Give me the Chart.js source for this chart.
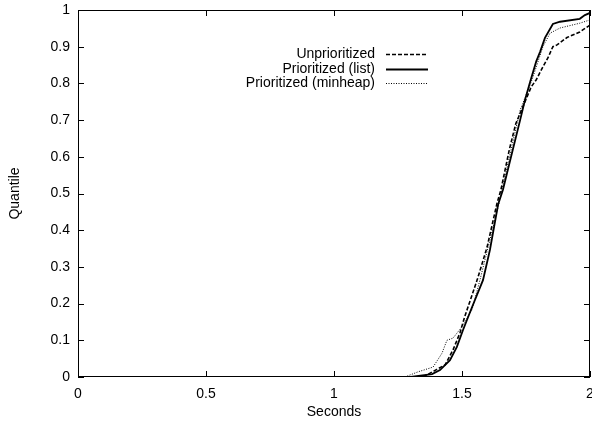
<!DOCTYPE html>
<html>
<head>
<meta charset="utf-8">
<script src="https://cdn.jsdelivr.net/npm/chart.js@4/dist/chart.umd.min.js"></script>
<style>
  html, body { margin: 0; padding: 0; background: #fff; }
  #wrap { width: 592px; height: 424px; }
</style>
</head>
<body>
<div id="wrap"><canvas id="grafico" width="592" height="424"></canvas></div>
<script>
// series labels
const nombres = ["Unprioritized", "Prioritized (list)", "Prioritized (minheap)"];

// Unprioritized (dashed)
const unprioX = [1.348, 1.40, 1.434, 1.465, 1.492, 1.51, 1.559, 1.598, 1.637, 1.652, 1.685, 1.71, 1.77, 1.79, 1.816, 1.836, 1.855, 1.871, 1.91, 1.96, 2.0];
const unprioY = [0, 0.02, 0.033, 0.074, 0.12, 0.163, 0.264, 0.354, 0.474, 0.51, 0.62, 0.69, 0.79, 0.81, 0.845, 0.87, 0.9, 0.905, 0.925, 0.94, 0.959];

// Prioritized (list) (solid)
const listX = [1.30, 1.383, 1.414, 1.453, 1.48, 1.504, 1.539, 1.582, 1.609, 1.641, 1.66, 1.688, 1.727, 1.746, 1.766, 1.79, 1.805, 1.824, 1.855, 1.883, 1.96, 1.98, 2.0];
const listY = [0, 0.008, 0.019, 0.046, 0.082, 0.128, 0.19, 0.264, 0.346, 0.47, 0.51, 0.59, 0.70, 0.755, 0.804, 0.86, 0.886, 0.924, 0.962, 0.968, 0.976, 0.986, 0.992];

// Prioritized (minheap) (dotted)
const heapX = [1.277, 1.328, 1.387, 1.422, 1.441, 1.465, 1.5, 1.539, 1.57, 1.609, 1.641, 1.656, 1.727, 1.766, 1.777, 1.816, 1.844, 1.883, 1.96, 2.0];
const heapY = [0, 0.014, 0.027, 0.065, 0.1, 0.106, 0.137, 0.183, 0.264, 0.373, 0.463, 0.51, 0.727, 0.796, 0.817, 0.9, 0.937, 0.951, 0.964, 0.973];

// axis ticks
const ticksX = [0, 0.5, 1, 1.5, 2];
const ticksY = [0, 0.1, 0.2, 0.3, 0.4, 0.5, 0.6, 0.7, 0.8, 0.9, 1];

const fuente = { family: "'Liberation Sans', Arial, sans-serif", size: 14 };

function puntos(xs, ys) {
  return xs.map((x, i) => ({ x: x, y: ys[i] }));
}

function etiqueta(v) {
  return String(Math.round(v * 10) / 10);
}

const estilos = [
  { dash: [4, 2], width: 1.6 },
  { dash: [], width: 1.8 },
  { dash: [1, 1.5], width: 1 }
];

// frame, inward ticks and legend, gnuplot style
const marco = {
  id: "marco",
  afterDraw(chart) {
    const c = chart.ctx;
    const a = chart.chartArea;
    const sx = chart.scales.x, sy = chart.scales.y;
    c.save();
    c.strokeStyle = "#000";
    c.lineWidth = 1;
    c.setLineDash([]);
    c.strokeRect(Math.round(a.left) + 0.5, Math.round(a.top) + 0.5, Math.round(a.right - a.left) - 1, Math.round(a.bottom - a.top) - 1);
    const L = 6;
    c.beginPath();
    ticksX.forEach((v) => {
      const px = Math.round(sx.getPixelForValue(v)) + 0.5;
      c.moveTo(px, a.bottom); c.lineTo(px, a.bottom - L);
      c.moveTo(px, a.top); c.lineTo(px, a.top + L);
    });
    ticksY.forEach((v) => {
      const py = Math.round(sy.getPixelForValue(v)) + 0.5;
      c.moveTo(a.left, py); c.lineTo(a.left + L, py);
      c.moveTo(a.right, py); c.lineTo(a.right - L, py);
    });
    c.stroke();

    // leyenda
    c.font = "14px 'Liberation Sans', Arial, sans-serif";
    c.textAlign = "right";
    c.textBaseline = "middle";
    c.fillStyle = "#000";
    const filas = [54, 69, 83];
    nombres.forEach((n, i) => {
      c.fillText(n, 375, filas[i]);
      c.beginPath();
      c.lineWidth = estilos[i].width;
      c.setLineDash(estilos[i].dash);
      c.moveTo(386, filas[i] + 0.5);
      c.lineTo(428, filas[i] + 0.5);
      c.stroke();
    });
    c.restore();
  }
};

new Chart(document.getElementById("grafico").getContext("2d"), {
  type: "line",
  data: {
    datasets: [
      { label: nombres[0], data: puntos(unprioX, unprioY), borderColor: "#000", borderWidth: estilos[0].width, borderDash: estilos[0].dash, pointRadius: 0, tension: 0, fill: false },
      { label: nombres[1], data: puntos(listX, listY), borderColor: "#000", borderWidth: estilos[1].width, borderDash: estilos[1].dash, pointRadius: 0, tension: 0, fill: false },
      { label: nombres[2], data: puntos(heapX, heapY), borderColor: "#000", borderWidth: estilos[2].width, borderDash: estilos[2].dash, pointRadius: 0, tension: 0, fill: false }
    ]
  },
  options: {
    responsive: false,
    animation: false,
    layout: { padding: { top: 10, right: 2, left: 0, bottom: 0 } },
    plugins: { legend: { display: false }, tooltip: { enabled: false } },
    scales: {
      x: {
        type: "linear",
        min: 0, max: 2,
        afterBuildTicks: (s) => { s.ticks = ticksX.map((v) => ({ value: v })); },
        afterFit: (s) => { s.height = 47; s.paddingLeft = 0; s.paddingRight = 0; },
        grid: { display: false, drawTicks: false },
        border: { display: false },
        ticks: { color: "#000", font: fuente, padding: 9, maxRotation: 0, autoSkip: false, callback: etiqueta },
        title: { display: true, text: "Seconds", color: "#000", font: fuente, padding: { top: 0, bottom: 3 } }
      },
      y: {
        type: "linear",
        min: 0, max: 1,
        afterBuildTicks: (s) => { s.ticks = ticksY.map((v) => ({ value: v })); },
        afterFit: (s) => { s.width = 78; s.paddingTop = 0; s.paddingBottom = 0; },
        grid: { display: false, drawTicks: false },
        border: { display: false },
        ticks: { color: "#000", font: fuente, padding: 8, autoSkip: false, callback: etiqueta },
        title: { display: true, text: "Quantile", color: "#000", font: fuente, padding: { top: 7, bottom: 0 } }
      }
    }
  },
  plugins: [marco]
});
</script>
</body>
</html>
